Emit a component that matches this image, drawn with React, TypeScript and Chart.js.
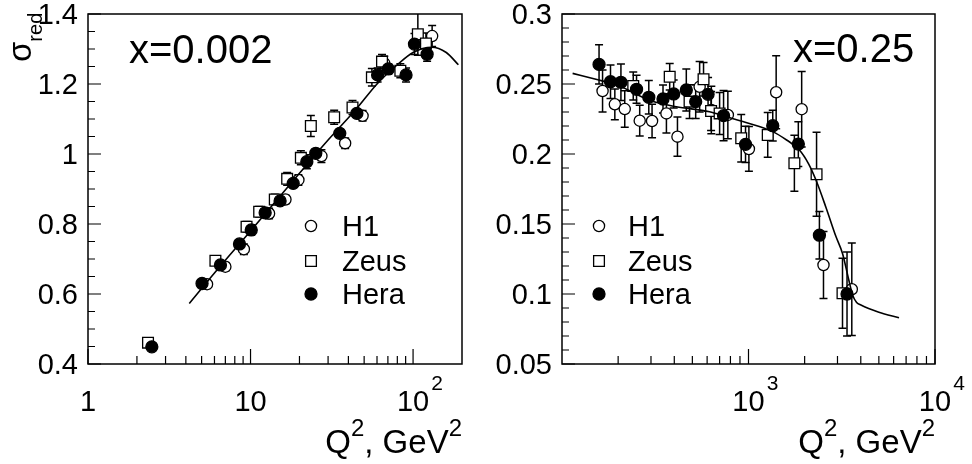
import React, { useEffect, useRef } from "react";
import { Chart, registerables } from "chart.js";
Chart.register(...registerables);

const FONT = '"Liberation Sans", Arial, Helvetica, sans-serif';

// ---------------- Left panel: x = 0.002 ----------------
const leftH1Q2 = [5.4, 7.0, 9.1, 13.0, 16.4, 19.7, 27.3, 38.2, 48.9, 66.5, 131];
const leftH1Sigma = [0.628, 0.678, 0.728, 0.83, 0.87, 0.926, 0.994, 1.031, 1.109, 1.259, 1.337];
const leftH1Err = [0.012, 0.012, 0.015, 0.015, 0.012, 0.015, 0.018, 0.015, 0.015, 0.02, 0.03];

const leftZeusQ2 = [2.34, 6.08, 9.45, 11.3, 14.1, 16.8, 20.4, 23.5, 32.7, 42.4, 55.8, 64.4, 83.5, 107, 120];
const leftZeusSigma = [0.461, 0.695, 0.792, 0.835, 0.87, 0.929, 0.989, 1.08, 1.105, 1.133, 1.219, 1.264, 1.238, 1.342, 1.316];
const leftZeusErr = [0.008, 0.012, 0.015, 0.015, 0.015, 0.018, 0.02, 0.03, 0.02, 0.02, 0.025, 0.02, 0.02, 0.06, 0.03];

const leftHeraQ2 = [2.47, 5.03, 6.53, 8.55, 10.1, 12.3, 15.2, 18.3, 22.2, 25.2, 35.4, 45.1, 60.5, 70.4, 90.5, 102, 122];
const leftHeraSigma = [0.449, 0.63, 0.683, 0.743, 0.783, 0.832, 0.866, 0.916, 0.978, 1.002, 1.059, 1.116, 1.226, 1.243, 1.226, 1.314, 1.285];
const leftHeraErr = [0.006, 0.01, 0.01, 0.01, 0.015, 0.012, 0.012, 0.012, 0.02, 0.012, 0.012, 0.012, 0.02, 0.015, 0.02, 0.03, 0.02];

const leftFitQ2 = [4.2, 6, 10, 20, 30, 45, 60, 80, 100, 130, 160, 190];
const leftFitSigma = [0.573, 0.66, 0.78, 0.945, 1.04, 1.13, 1.2, 1.255, 1.29, 1.305, 1.29, 1.255];

const leftXMajor = [1, 10, 100];
const leftXLabels = ["1", "10", "10"];
const leftXExp = ["", "", "2"];
const leftXMinor = [2, 3, 4, 5, 6, 7, 8, 9, 20, 30, 40, 50, 60, 70, 80, 90];
const leftYMajor = [0.4, 0.6, 0.8, 1.0, 1.2, 1.4];
const leftYLabels = ["0.4", "0.6", "0.8", "1", "1.2", "1.4"];
const leftYMinor = [0.45, 0.5, 0.55, 0.65, 0.7, 0.75, 0.85, 0.9, 0.95, 1.05, 1.1, 1.15, 1.25, 1.3, 1.35];

// ---------------- Right panel: x = 0.25 ----------------
const rightH1Q2 = [165, 192, 217, 261, 304, 363, 416, 547, 632, 775, 1005, 1407, 1928, 2524, 3580];
const rightH1Sigma = [0.245, 0.2355, 0.2321, 0.2238, 0.2236, 0.229, 0.2124, 0.248, 0.2314, 0.2279, 0.2036, 0.2441, 0.232, 0.1207, 0.1034];
const rightH1Err = [0.015, 0.011, 0.013, 0.011, 0.012, 0.014, 0.014, 0.018, 0.017, 0.017, 0.016, 0.026, 0.027, 0.024, 0.033];

const rightZeusQ2 = [241, 378, 483, 574, 630, 700, 914, 1268, 1762, 2317, 3192];
const rightZeusSigma = [0.2486, 0.2552, 0.2374, 0.2534, 0.2307, 0.229, 0.2112, 0.2136, 0.1934, 0.1855, 0.1005];
const rightZeusErr = [0.01, 0.0095, 0.012, 0.012, 0.014, 0.015, 0.017, 0.016, 0.02, 0.03, 0.025];

const rightHeraQ2 = [158, 182, 207, 251, 292, 348, 397, 464, 521, 607, 735, 964, 1349, 1850, 2400, 3375];
const rightHeraSigma = [0.264, 0.2516, 0.2512, 0.2462, 0.2405, 0.2393, 0.2429, 0.2457, 0.2374, 0.2426, 0.2274, 0.2069, 0.2202, 0.2071, 0.142, 0.1];
const rightHeraErr = [0.014, 0.012, 0.013, 0.01, 0.012, 0.01, 0.01, 0.015, 0.012, 0.012, 0.018, 0.013, 0.011, 0.016, 0.017, 0.03];

const rightFitQ2 = [114, 150, 200, 300, 410, 618, 760, 1000, 1349, 1600, 1875, 2100, 2300, 2600, 2944, 3192, 3450, 3614, 3800, 4006, 5000, 6412];
const rightFitSigma = [0.2576, 0.2535, 0.249, 0.238, 0.2338, 0.2302, 0.2266, 0.222, 0.216, 0.21, 0.2029, 0.193, 0.1814, 0.162, 0.141, 0.129, 0.11, 0.0993, 0.094, 0.0921, 0.087, 0.0831];

const rightXMajor = [1000, 10000];
const rightXLabels = ["10", "10"];
const rightXExp = ["3", "4"];
const rightXMinor = [200, 300, 400, 500, 600, 700, 800, 900, 2000, 3000, 4000, 5000, 6000, 7000, 8000, 9000];
const rightYMajor = [0.05, 0.1, 0.15, 0.2, 0.25, 0.3];
const rightYLabels = ["0.05", "0.1", "0.15", "0.2", "0.25", "0.3"];
const rightYMinor = [0.06, 0.07, 0.08, 0.09, 0.11, 0.12, 0.13, 0.14, 0.16, 0.17, 0.18, 0.19, 0.21, 0.22, 0.23, 0.24, 0.26, 0.27, 0.28, 0.29];

const seriesNames = ["H1", "Zeus", "Hera"];
const xTitleParts = ["Q", "2", ", GeV", "2"];
const yTitleParts = ["σ", "red"];

type Spec = {
  xMajor: number[]; xLabels: string[]; xExp: string[]; xMinor: number[];
  yMajor: number[]; yLabels: string[]; yMinor: number[];
  note: string; noteX: number; noteY: number;
  legendMarkerX: number; legendTextX: number; legendRows: number[];
  yTitle: boolean;
};

function drawText(ctx: CanvasRenderingContext2D, text: string, x: number, y: number, size: number, align: "left" | "right" | "center") {
  ctx.font = `${size}px ${FONT}`;
  const w = ctx.measureText(text).width;
  let x0 = x;
  if (align === "right") x0 = x - w;
  else if (align === "center") x0 = x - w / 2;
  ctx.textAlign = "left";
  ctx.textBaseline = "alphabetic";
  ctx.fillText(text, x0, y);
  return w;
}

function drawMarker(ctx: CanvasRenderingContext2D, style: string, filled: boolean, x: number, y: number, r: number) {
  ctx.beginPath();
  if (style === "rect") {
    const s = r * Math.SQRT1_2;
    ctx.rect(x - s, y - s, 2 * s, 2 * s);
  } else {
    ctx.arc(x, y, r, 0, Math.PI * 2);
  }
  ctx.fillStyle = filled ? "#000" : "#fff";
  ctx.fill();
  ctx.lineWidth = 1.3;
  ctx.strokeStyle = "#000";
  ctx.stroke();
}

function makePlugin(spec: Spec) {
  return {
    id: "rootStyle",
    beforeDatasetsDraw(chart: any) {
      const { ctx, chartArea: a, scales } = chart;
      ctx.save();
      ctx.beginPath();
      ctx.rect(a.left, a.top, a.right - a.left, a.bottom - a.top);
      ctx.clip();
      ctx.strokeStyle = "#000";
      ctx.lineWidth = 1.5;
      chart.data.datasets.forEach((ds: any) => {
        if (!ds.errors) return;
        ds.data.forEach((pt: any, i: number) => {
          const e = ds.errors[i];
          const px = scales.x.getPixelForValue(pt.x);
          const y1 = scales.y.getPixelForValue(pt.y - e);
          const y2 = scales.y.getPixelForValue(pt.y + e);
          ctx.beginPath();
          ctx.moveTo(px, y1); ctx.lineTo(px, y2);
          ctx.moveTo(px - 4, y1); ctx.lineTo(px + 4, y1);
          ctx.moveTo(px - 4, y2); ctx.lineTo(px + 4, y2);
          ctx.stroke();
        });
      });
      ctx.restore();
    },
    afterDraw(chart: any) {
      const { ctx, chartArea: a, scales } = chart;
      const xs = scales.x, ys = scales.y;
      ctx.save();
      ctx.strokeStyle = "#000";
      ctx.fillStyle = "#000";
      ctx.lineWidth = 1.5;
      ctx.strokeRect(a.left, a.top, a.right - a.left, a.bottom - a.top);
      ctx.lineWidth = 1.2;
      ctx.beginPath();
      spec.xMajor.forEach((v) => { const p = xs.getPixelForValue(v); ctx.moveTo(p, a.bottom); ctx.lineTo(p, a.bottom - 15); });
      spec.xMinor.forEach((v) => { const p = xs.getPixelForValue(v); ctx.moveTo(p, a.bottom); ctx.lineTo(p, a.bottom - 8); });
      spec.yMajor.forEach((v) => { const p = ys.getPixelForValue(v); ctx.moveTo(a.left, p); ctx.lineTo(a.left + 13, p); });
      spec.yMinor.forEach((v) => { const p = ys.getPixelForValue(v); ctx.moveTo(a.left, p); ctx.lineTo(a.left + 7, p); });
      ctx.stroke();

      // y tick labels
      spec.yMajor.forEach((v, i) => {
        const p = ys.getPixelForValue(v);
        drawText(ctx, spec.yLabels[i], a.left - 10, p + 0.358 * 29, 29, "right");
      });
      // x tick labels
      spec.xMajor.forEach((v, i) => {
        const p = xs.getPixelForValue(v);
        const w = drawText(ctx, spec.xLabels[i], p, a.bottom + 47, 29, "center");
        if (spec.xExp[i]) drawText(ctx, spec.xExp[i], p + w / 2 + 2, a.bottom + 26, 21, "left");
      });
      // x title
      const sizes = [33, 24, 33, 24];
      const dys = [0, -17, 0, -17];
      let total = 0;
      xTitleParts.forEach((t, i) => { ctx.font = `${sizes[i]}px ${FONT}`; total += ctx.measureText(t).width; });
      let cx = a.right - total;
      xTitleParts.forEach((t, i) => { cx += drawText(ctx, t, cx, 453 + dys[i], sizes[i], "left"); });

      // y title
      if (spec.yTitle) {
        ctx.save();
        ctx.translate(31, 62);
        ctx.rotate(-Math.PI / 2);
        const w = drawText(ctx, yTitleParts[0], 0, 0, 33, "left");
        drawText(ctx, yTitleParts[1], w, 11, 20, "left");
        ctx.restore();
      }

      // annotation
      ctx.fillStyle = "#000";
      drawText(ctx, spec.note, spec.noteX, spec.noteY, 40, "left");

      // legend
      seriesNames.forEach((name, i) => {
        const ds = chart.data.datasets.find((d: any) => d.label === name);
        if (!ds) return;
        const y = spec.legendRows[i];
        drawMarker(ctx, ds.pointStyle, ds.backgroundColor === "#000", spec.legendMarkerX, y, ds.pointRadius);
        ctx.fillStyle = "#000";
        drawText(ctx, name, spec.legendTextX, y + 0.358 * 29, 29, "left");
      });
      ctx.restore();
    },
  };
}

function buildDatasets(h1: number[][], zeus: number[][], hera: number[][], fit: number[][]) {
  const pts = (xs: number[], ys: number[]) => xs.map((x, i) => ({ x, y: ys[i] }));
  return [
    {
      label: "fit", data: pts(fit[0], fit[1]), showLine: true, pointRadius: 0,
      borderColor: "#000", borderWidth: 1.6, cubicInterpolationMode: "monotone", order: 0, fill: false,
    },
    {
      label: "Hera", data: pts(hera[0], hera[1]), errors: hera[2], pointStyle: "circle", pointRadius: 6,
      backgroundColor: "#000", borderColor: "#000", borderWidth: 1.3, order: 1,
    },
    {
      label: "Zeus", data: pts(zeus[0], zeus[1]), errors: zeus[2], pointStyle: "rect", pointRadius: 7.6,
      backgroundColor: "#fff", borderColor: "#000", borderWidth: 1.3, order: 2,
    },
    {
      label: "H1", data: pts(h1[0], h1[1]), errors: h1[2], pointStyle: "circle", pointRadius: 5.6,
      backgroundColor: "#fff", borderColor: "#000", borderWidth: 1.3, order: 3,
    },
  ];
}

function Panel(props: { left: number; spec: Spec; datasets: any[]; xr: number[]; yr: number[]; padding: any }) {
  const ref = useRef<HTMLCanvasElement>(null);
  useEffect(() => {
    const chart = new Chart(ref.current as HTMLCanvasElement, {
      type: "scatter",
      data: { datasets: props.datasets },
      options: {
        responsive: false,
        animation: false,
        devicePixelRatio: 1,
        events: [],
        layout: { padding: props.padding },
        plugins: { legend: { display: false }, tooltip: { enabled: false } },
        scales: {
          x: { type: "logarithmic", min: props.xr[0], max: props.xr[1], display: false, ticks: { display: false }, grid: { display: false } },
          y: { type: "linear", min: props.yr[0], max: props.yr[1], display: false, ticks: { display: false }, grid: { display: false } },
        },
      } as any,
      plugins: [makePlugin(props.spec) as any],
    });
    return () => chart.destroy();
  }, []);
  return (
    <canvas ref={ref} width={486} height={464}
      style={{ position: "absolute", left: props.left, top: 0, width: 486, height: 464 }} />
  );
}

export default function App() {
  const leftSpec: Spec = {
    xMajor: leftXMajor, xLabels: leftXLabels, xExp: leftXExp, xMinor: leftXMinor,
    yMajor: leftYMajor, yLabels: leftYLabels, yMinor: leftYMinor,
    note: "x=0.002", noteX: 129, noteY: 63,
    legendMarkerX: 311, legendTextX: 342, legendRows: [226, 261, 294], yTitle: true,
  };
  const rightSpec: Spec = {
    xMajor: rightXMajor, xLabels: rightXLabels, xExp: rightXExp, xMinor: rightXMinor,
    yMajor: rightYMajor, yLabels: rightYLabels, yMinor: rightYMinor,
    note: "x=0.25", noteX: 307, noteY: 62,
    legendMarkerX: 113, legendTextX: 142, legendRows: [226, 261, 294], yTitle: false,
  };
  const leftData = buildDatasets(
    [leftH1Q2, leftH1Sigma, leftH1Err],
    [leftZeusQ2, leftZeusSigma, leftZeusErr],
    [leftHeraQ2, leftHeraSigma, leftHeraErr],
    [leftFitQ2, leftFitSigma]
  );
  const rightData = buildDatasets(
    [rightH1Q2, rightH1Sigma, rightH1Err],
    [rightZeusQ2, rightZeusSigma, rightZeusErr],
    [rightHeraQ2, rightHeraSigma, rightHeraErr],
    [rightFitQ2, rightFitSigma]
  );
  return (
    <div style={{ position: "fixed", left: 0, top: 0, width: 972, height: 464, background: "#fff" }}>
      <Panel left={0} spec={leftSpec} datasets={leftData} xr={[1, 200]} yr={[0.4, 1.4]}
        padding={{ left: 88, right: 24, top: 14, bottom: 100 }} />
      <Panel left={486} spec={rightSpec} datasets={rightData} xr={[100, 10000]} yr={[0.05, 0.3]}
        padding={{ left: 76, right: 37, top: 14, bottom: 100 }} />
    </div>
  );
}
